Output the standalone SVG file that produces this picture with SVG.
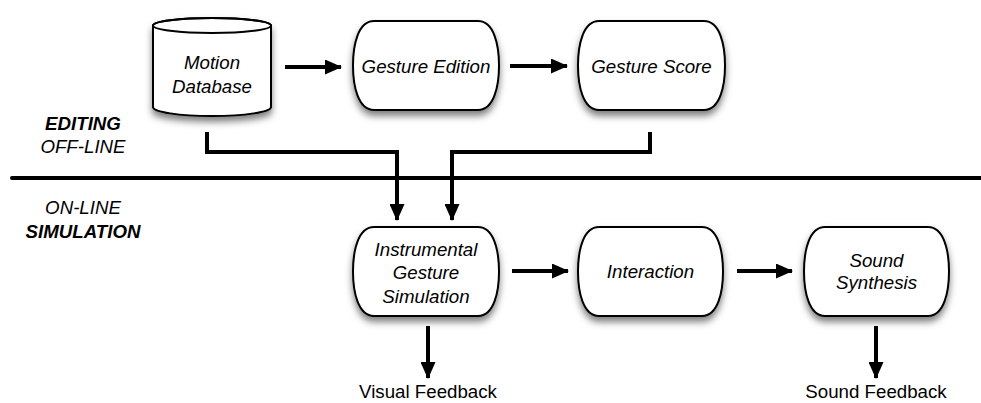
<svg xmlns="http://www.w3.org/2000/svg" width="981" height="403" viewBox="0 0 981 403">
<style>
.n{fill:#fff;stroke:#000;stroke-width:2;filter:url(#sh)}
.t{font-family:"Liberation Sans",Arial,sans-serif;font-size:18.7px;font-style:italic;text-anchor:middle;fill:#000}
.b{font-weight:bold}
.r{font-style:normal}
.c{fill:none;stroke:#000;stroke-width:4;stroke-linejoin:miter}
.a{marker-end:url(#ah)}
</style>
<defs>
<filter id="sh" x="-20%" y="-20%" width="140%" height="150%">
<feDropShadow dx="0" dy="5" stdDeviation="3.5" flood-color="#000" flood-opacity="0.5"/>
</filter>
<marker id="ah" markerUnits="userSpaceOnUse" markerWidth="17" markerHeight="15" refX="16" refY="7.5" orient="auto">
<path d="M0,0 L17,7.5 L0,15 Z" fill="#000"/>
</marker>
</defs>
<rect width="981" height="403" fill="#fff"/>

<g id="motion-database">
<path class="n" d="M153,25.5 V107 A59,9 0 0 0 271,107 V25.5 A59,7.5 0 0 0 153,25.5 Z"/>
<ellipse cx="212" cy="25.5" rx="59" ry="7.5" fill="none" stroke="#000" stroke-width="2"/>
<text class="t" x="212" y="68.5">Motion</text>
<text class="t" x="212" y="92.5">Database</text>
</g>

<g id="gesture-edition">
<path class="n" d="M374,21 H478 C494,21 499,45 499,65.5 C499,86 494,110 478,110 H374 C358,110 353,86 353,65.5 C353,45 358,21 374,21 Z"/>
<text class="t" x="426" y="72.5">Gesture Edition</text>
</g>

<g id="gesture-score">
<path class="n" d="M599,21 H704 C720,21 725,45 725,65.5 C725,86 720,110 704,110 H599 C583,110 578,86 578,65.5 C578,45 583,21 599,21 Z"/>
<text class="t" x="651.5" y="72.5">Gesture Score</text>
</g>

<g id="instrumental-gesture-simulation">
<path class="n" d="M374,227 H478 C494,227 499,251 499,271.5 C499,292 494,316 478,316 H374 C358,316 353,292 353,271.5 C353,251 358,227 374,227 Z"/>
<text class="t" x="426" y="255.5">Instrumental</text>
<text class="t" x="426" y="278.5">Gesture</text>
<text class="t" x="426" y="302.5">Simulation</text>
</g>

<g id="interaction">
<path class="n" d="M599,227 H702 C718,227 723,251 723,271.5 C723,292 718,316 702,316 H599 C583,316 578,292 578,271.5 C578,251 583,227 599,227 Z"/>
<text class="t" x="650.5" y="278">Interaction</text>
</g>

<g id="sound-synthesis">
<path class="n" d="M825,227 H928 C944,227 949,251 949,271.5 C949,292 944,316 928,316 H825 C809,316 804,292 804,271.5 C804,251 809,227 825,227 Z"/>
<text class="t" x="876.5" y="266.5">Sound</text>
<text class="t" x="876.5" y="289">Synthesis</text>
</g>

<g id="labels">
<text class="t b" x="83" y="129.5">EDITING</text>
<text class="t" x="83" y="152.5">OFF-LINE</text>
<text class="t" x="83" y="213.5">ON-LINE</text>
<text class="t b" x="83" y="237.5">SIMULATION</text>
<text class="t r" x="428" y="398">Visual Feedback</text>
<text class="t r" x="876" y="398">Sound Feedback</text>
</g>

<g id="connectors">
<line x1="12" y1="178" x2="981" y2="178" stroke="#000" stroke-width="4" stroke-linecap="round"/>
<path class="c a" d="M285,67 H341"/>
<path class="c a" d="M510,66 H567"/>
<path class="c a" d="M207,132 V152 H397 V220"/>
<path class="c a" d="M650,132 V152 H452 V220"/>
<path class="c a" d="M512,271 H568"/>
<path class="c a" d="M737,271 H792"/>
<path class="c a" d="M428,326 V378"/>
<path class="c a" d="M876,326 V378"/>
</g>
</svg>
